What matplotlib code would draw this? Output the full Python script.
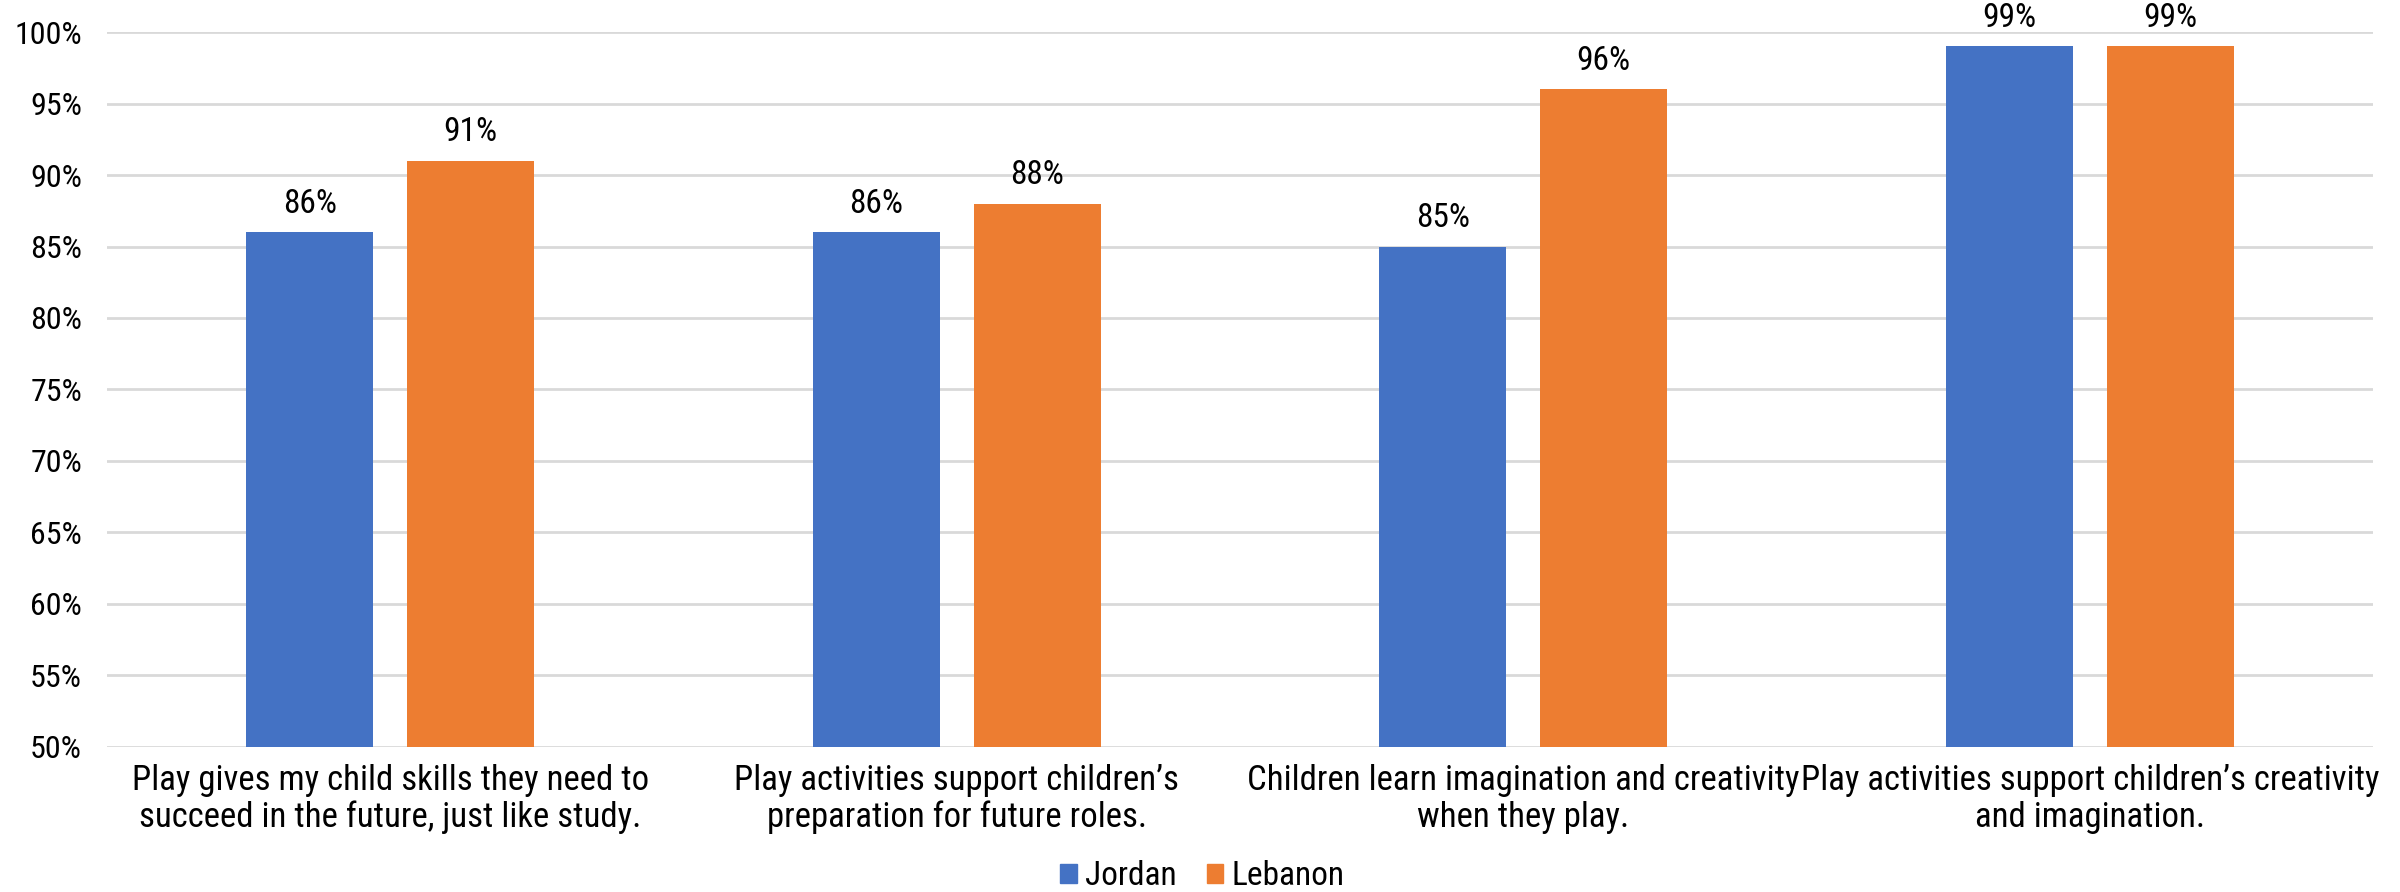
import numpy as np
import matplotlib
matplotlib.use("Agg")
import matplotlib.pyplot as plt
from matplotlib import font_manager as fm
from matplotlib.patches import Patch

# data
categories = [
    "Play gives my child skills they need to\nsucceed in the future, just like study.",
    "Play activities support children\u2019s\npreparation for future roles.",
    "Children learn imagination and creativity\nwhen they play.",
    "Play activities support children\u2019s creativity\nand imagination.",
]
series = ["Jordan", "Lebanon"]
jordan = [86, 86, 85, 99]
lebanon = [91, 88, 96, 99]
yticks = [50, 55, 60, 65, 70, 75, 80, 85, 90, 95, 100]

BLUE = "#4472C4"
ORANGE = "#ED7D31"
GRID = "#D9D9D9"

# the reference uses a narrow sans; take the first narrow family that is installed
installed = {f.name for f in fm.fontManager.ttflist}
wanted = ["Roboto Condensed", "Barlow Semi Condensed", "Asap Condensed",
          "Encode Sans Condensed", "PT Sans Narrow", "Archivo Narrow",
          "Fira Sans Condensed", "Liberation Sans Narrow"]
narrow = [f for f in wanted if f in installed][:1]
plt.rcParams["font.family"] = narrow + ["DejaVu Sans"]

fig = plt.figure(figsize=(24, 8.92), dpi=100)
ax = fig.add_axes([0.0446, 0.1626, 0.9442, 0.8015])

x = np.arange(len(categories))
w = 0.224
off = 0.142
b1 = ax.bar(x - off, jordan, w, color=BLUE, zorder=3)
b2 = ax.bar(x + off, lebanon, w, color=ORANGE, zorder=3)

for bars, vals in ((b1, jordan), (b2, lebanon)):
    for r, v in zip(bars, vals):
        ax.annotate(f"{v}%", (r.get_x() + r.get_width() / 2, v),
                    xytext=(0, 9), textcoords="offset points",
                    ha="center", va="bottom", fontsize=24, annotation_clip=False)

ax.set_ylim(50, 100)
ax.set_xlim(-0.5, len(categories) - 0.5)
ax.set_yticks(yticks)
ax.set_yticklabels([f"{t}%" for t in yticks], fontsize=23)
ax.set_xticks(x)
ax.set_xticklabels(categories, fontsize=25, linespacing=1.15)
ax.tick_params(axis="both", length=0)
ax.tick_params(axis="y", pad=18)
ax.tick_params(axis="x", pad=12)
ax.grid(axis="y", color=GRID, linewidth=2, zorder=0)
for s in ax.spines.values():
    s.set_visible(False)

handles = [Patch(color=BLUE), Patch(color=ORANGE)]
fig.legend(handles, series, loc="center", bbox_to_anchor=(0.501, 0.018),
           ncol=2, frameon=False, fontsize=24, handlelength=0.5,
           handleheight=0.5, handletextpad=0.25, columnspacing=0.9,
           borderpad=0.1)

fig.savefig("out.png", dpi=100)
